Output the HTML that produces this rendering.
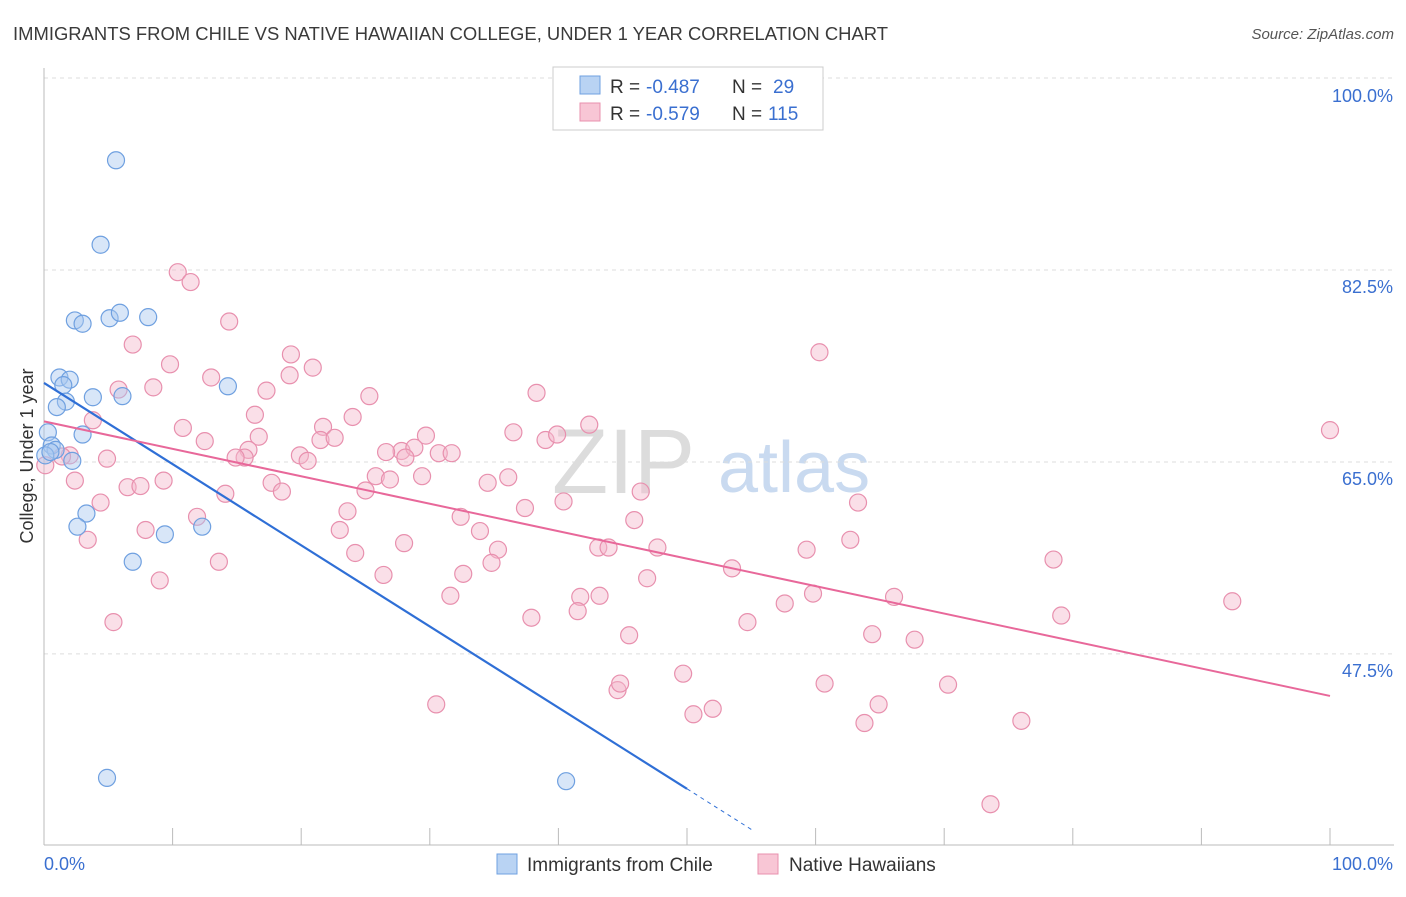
<!DOCTYPE html>
<html><head><meta charset="utf-8"><style>
body{margin:0;background:#fff;font-family:"Liberation Sans",sans-serif;}
svg text{font-family:"Liberation Sans",sans-serif;}
</style></head><body>
<svg id="chart" width="1406" height="892" xmlns="http://www.w3.org/2000/svg">
<text x="13" y="40" font-size="18" fill="#3a3a3a" textLength="875" lengthAdjust="spacingAndGlyphs">IMMIGRANTS FROM CHILE VS NATIVE HAWAIIAN COLLEGE, UNDER 1 YEAR CORRELATION CHART</text>
<text x="1394" y="39" font-size="15" fill="#555" text-anchor="end" font-style="italic">Source: ZipAtlas.com</text>
<g>
<text x="552" y="493" font-size="92" fill="#dcdcdc" font-family="Liberation Serif,serif">ZIP</text>
<text x="718" y="492" font-size="72" fill="#c9daf0">atlas</text>
</g>
<g id="grid"></g>
<g id="axes"></g>
<text transform="translate(33,456) rotate(-90)" font-size="18" fill="#333" text-anchor="middle">College, Under 1 year</text>
<g id="pink"></g>
<g id="blue"></g>
<g id="lines"></g>
<g>
<rect x="553" y="67" width="270" height="63" fill="#fff" stroke="#ccc"/>
<rect x="580" y="76" width="20" height="18" fill="#b9d3f3" stroke="#6fa0e0"/>
<rect x="580" y="103" width="20" height="18" fill="#f8c6d5" stroke="#e890ae"/>
<text x="610" y="93" font-size="19" fill="#333">R =</text>
<text x="646" y="93" font-size="19" fill="#3a6fd0">-0.487</text>
<text x="732" y="93" font-size="19" fill="#333">N =</text>
<text x="773" y="93" font-size="19" fill="#3a6fd0">29</text>
<text x="610" y="120" font-size="19" fill="#333">R =</text>
<text x="646" y="120" font-size="19" fill="#3a6fd0">-0.579</text>
<text x="732" y="120" font-size="19" fill="#333">N =</text>
<text x="768" y="120" font-size="19" fill="#3a6fd0">115</text>
</g>
<g>
<rect x="497" y="854" width="20" height="20" fill="#b9d3f3" stroke="#6fa0e0"/>
<text x="527" y="871" font-size="19" fill="#333">Immigrants from Chile</text>
<rect x="758" y="854" width="20" height="20" fill="#f8c6d5" stroke="#e890ae"/>
<text x="789" y="871" font-size="19" fill="#333">Native Hawaiians</text>
</g>
</svg>
<script>
const yTicks=[47.5,65.0,82.5,100.0];
const yTickLabels=["47.5%","65.0%","82.5%","100.0%"];
const blueX=[5.6,4.4,2.4,3.0,5.1,5.9,8.1,1.2,2.0,1.5,3.8,6.1,14.3,1.7,1.0,3.0,0.3,0.6,0.9,0.1,2.2,3.3,2.6,9.4,12.3,6.9,4.9,40.6,0.5];
const blueY=[92.5,84.8,77.9,77.6,78.1,78.6,78.2,72.7,72.5,72.0,70.9,71.0,71.9,70.5,70.0,67.5,67.7,66.5,66.1,65.6,65.1,60.3,59.1,58.4,59.1,55.9,36.2,35.9,65.9];
const pinkX=[10.4,11.4,14.4,6.9,19.2,20.9,9.8,13.0,19.1,17.3,5.8,8.5,25.3,38.3,60.3,100,3.8,10.8,12.5,16.4,16.7,21.7,24.0,21.5,22.6,19.9,20.5,15.9,15.6,14.9,4.9,2.0,1.4,2.4,27.8,26.6,28.8,28.1,29.7,30.7,31.7,36.5,39.0,39.9,42.4,25.8,26.9,25.0,29.4,36.1,34.5,6.5,7.5,9.3,14.1,17.7,18.5,4.4,11.9,23.6,32.4,37.4,40.4,46.4,45.9,63.3,7.9,23.0,33.9,3.4,13.6,9.0,24.2,26.4,28.0,35.3,34.8,32.6,43.1,43.9,47.7,46.9,53.5,59.3,62.7,78.5,31.6,41.7,43.2,41.5,37.9,57.6,59.8,66.1,92.4,79.1,5.4,54.7,45.5,64.4,67.7,49.7,44.6,44.8,60.7,70.3,30.5,52.0,50.5,64.9,63.8,76.0,73.6,0.1];
const pinkY=[82.3,81.4,77.8,75.7,74.8,73.6,73.9,72.7,72.9,71.5,71.6,71.8,71.0,71.3,75.0,67.9,68.8,68.1,66.9,69.3,67.3,68.2,69.1,67.0,67.2,65.6,65.1,66.1,65.4,65.4,65.3,65.6,65.5,63.3,66.0,65.9,66.3,65.4,67.4,65.8,65.8,67.7,67.0,67.5,68.4,63.7,63.4,62.4,63.7,63.6,63.1,62.7,62.8,63.3,62.1,63.1,62.3,61.3,60.0,60.5,60.0,60.8,61.4,62.3,59.7,61.3,58.8,58.8,58.7,57.9,55.9,54.2,56.7,54.7,57.6,57.0,55.8,54.8,57.2,57.2,57.2,54.4,55.3,57.0,57.9,56.1,52.8,52.7,52.8,51.4,50.8,52.1,53.0,52.7,52.3,51.0,50.4,50.4,49.2,49.3,48.8,45.7,44.2,44.8,44.8,44.7,42.9,42.5,42.0,42.9,41.2,41.4,33.8,64.7];
const NS="http://www.w3.org/2000/svg";
const X=v=>44+v*12.86, Y=v=>78+(100-v)*10.97;
function mk(t,a,p){const e=document.createElementNS(NS,t);for(const k in a)e.setAttribute(k,a[k]);p.appendChild(e);return e;}
const grid=document.getElementById('grid'),axes=document.getElementById('axes');
yTicks.forEach((t,i)=>{
 const g=mk('line',{x1:44,x2:1394,y1:Y(t),y2:Y(t),stroke:'#ddd','stroke-dasharray':'4,4'},grid);
 
 
 const l=mk('text',{x:1393,y:Y(t)+(t==100?24:23),'font-size':18,fill:'#3a6fd0','text-anchor':'end'},axes);
 l.textContent=yTickLabels[i];
 
 
});
mk('line',{x1:44,x2:44,y1:68,y2:845,stroke:'#bbb'},axes);
mk('line',{x1:44,x2:1394,y1:845,y2:845,stroke:'#bbb'},axes);
for(let i=0;i<=10;i++){mk('line',{x1:X(i*10),x2:X(i*10),y1:828,y2:845,stroke:'#bbb'},axes);}
const x0=mk('text',{x:44,y:870,'font-size':18,fill:'#3a6fd0'},axes);x0.textContent='0.0%';


const x1=mk('text',{x:1393,y:870,'font-size':18,fill:'#3a6fd0','text-anchor':'end'},axes);x1.textContent='100.0%';


function pts(xs,ys,g,f,s,nm){xs.forEach((x,i)=>{const c=mk('circle',{cx:X(x),cy:Y(ys[i]),r:8.5,fill:f,'fill-opacity':0.45,stroke:s,'stroke-width':1.2},g);
 
 });}
pts(pinkX,pinkY,document.getElementById('pink'),'#f4b8cb','#e890ae','hawaiian-point');
pts(blueX,blueY,document.getElementById('blue'),'#a9c8f0','#6fa0e0','chile-point');
function fit(xs,ys){const n=xs.length;let mx=0,my=0;xs.forEach((x,i)=>{mx+=x;my+=ys[i];});mx/=n;my/=n;let sxy=0,sxx=0;xs.forEach((x,i)=>{sxy+=(x-mx)*(ys[i]-my);sxx+=(x-mx)*(x-mx);});const b=sxy/sxx;return [my-b*mx,b];}
const L=document.getElementById('lines');
const [ba0,bb]=fit(blueX,blueY);
const ba=ba0+0.4;
const bl=mk('line',{x1:X(0),y1:Y(ba),x2:X(50),y2:Y(ba+bb*50),stroke:'#2f6fd6','stroke-width':2.2},L);


mk('line',{x1:X(50),y1:Y(ba+bb*50),x2:X(55),y2:Y(ba+bb*55),stroke:'#2f6fd6','stroke-width':1,'stroke-dasharray':'4,4'},L);
const [pa,pb]=fit(pinkX,pinkY);
const pl=mk('line',{x1:X(0),y1:Y(pa),x2:X(100),y2:Y(pa+pb*100),stroke:'#e8689a','stroke-width':2},L);


</script>
</body></html>
